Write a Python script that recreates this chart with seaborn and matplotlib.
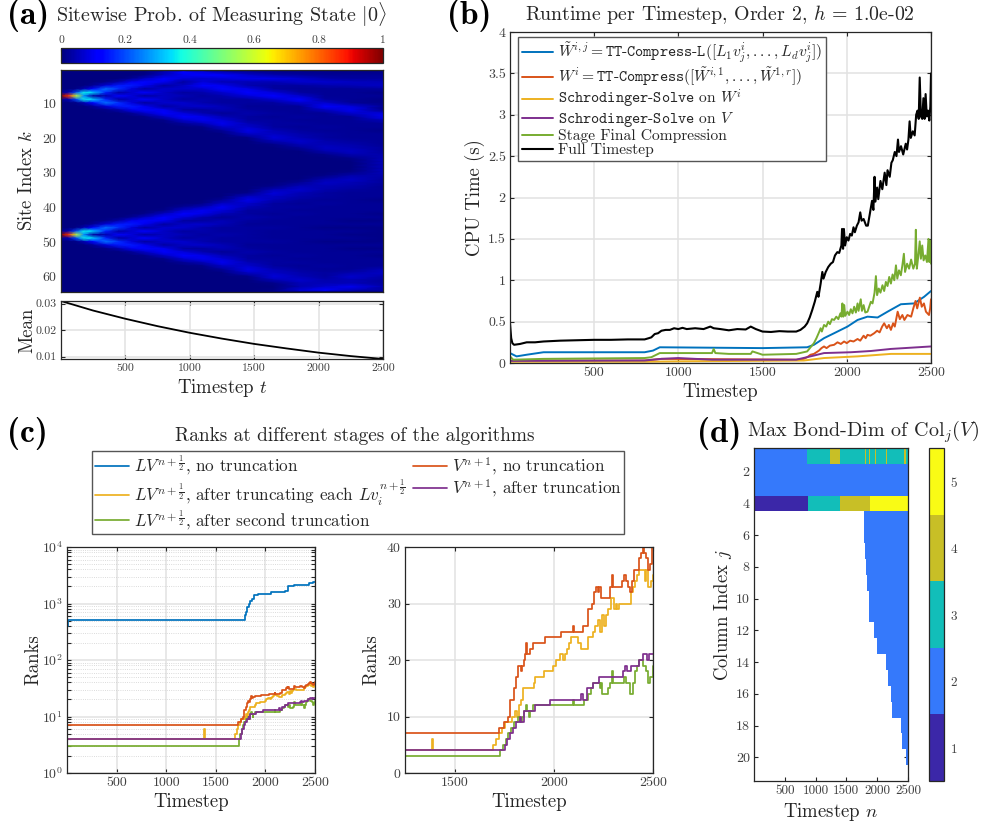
import numpy as np
import pandas as pd
import seaborn as sns
import matplotlib
matplotlib.use("Agg")
import matplotlib.pyplot as plt
from matplotlib.colors import ListedColormap

W, H = 986, 827

# (a) sitewise probability, in percent, read by eye. one row per site 1..64
site_times = [1, 60, 120, 180, 250, 350, 450, 550, 650, 800, 950, 1100, 1250, 1450, 1650, 1850, 2050, 2250, 2500]
site_prob = [
    [0]*9 + [4, 11, 8, 4, 2, 1, 1, 1, 1, 1],
    [0]*8 + [1, 6, 10, 12, 12, 7, 4, 3, 2, 2, 2],
    [0]*7 + [2, 6, 12, 8, 7, 8, 9, 9, 7, 4, 3, 3],
    [0]*5 + [1, 4, 10, 13, 10, 3, 8, 5, 5, 5, 7, 7, 6, 5],
    [0]*4 + [2, 8, 15, 15, 10, 3, 6, 12, 10, 4, 3, 3, 4, 5, 6],
    [0, 0, 1, 5, 13, 24, 17, 8, 3, 7, 7, 7, 13, 9, 3, 2, 2, 2, 3],
    [2, 5, 20, 36, 33, 16, 3, 7, 11, 6, 3, 4, 7, 12, 8, 3, 2, 2, 1],
    [100, 85, 58, 25, 3, 4, 13, 8, 3, 6, 5, 3, 4, 8, 12, 7, 2, 2, 2],
    [2, 5, 20, 36, 33, 16, 3, 7, 11, 6, 3, 4, 3, 3, 7, 12, 3, 2, 1],
    [0, 0, 1, 5, 13, 24, 17, 8, 3, 7, 7, 4, 3, 3, 3, 7, 7, 2, 1],
    [0, 0, 0, 0, 2, 8, 15, 15, 10, 3, 6, 7, 5, 2, 2, 2, 11, 8, 2],
    [0]*5 + [1, 4, 10, 13, 10, 3, 3, 5, 3, 2, 2, 6, 10, 1],
    [0]*7 + [2, 6, 12, 8, 4, 2, 4, 3, 2, 2, 7, 8],
    [0]*8 + [1, 6, 11, 9, 5, 3, 2, 3, 2, 2, 10],
    [0]*9 + [1, 7, 10, 8, 3, 3, 2, 2, 2, 5],
    [0]*10 + [2, 5, 10, 5, 3, 3, 2, 2, 2],
    [0]*11 + [1, 6, 7, 3, 2, 3, 2, 2],
    [0]*12 + [2, 9, 5, 3, 2, 2, 1],
    [0]*13 + [6, 6, 4, 3, 2, 2],
    [0]*13 + [1, 8, 5, 3, 2, 2],
    [0]*14 + [5, 7, 4, 3, 2],
    [0]*14 + [1, 5, 5, 4, 2],
    [0]*15 + [2, 6, 5, 3],
    [0]*16 + [4, 6, 3],
    [0]*16 + [1, 4, 4],
    [0]*17 + [1, 5],
    [0]*18 + [5],
    [0]*18 + [5],
    [0]*18 + [5],
    [0]*17 + [1, 5],
    [0]*16 + [1, 4, 4],
    [0]*16 + [4, 6, 3],
    [0]*15 + [2, 6, 5, 3],
    [0]*14 + [1, 5, 5, 4, 2],
    [0]*14 + [5, 7, 4, 3, 2],
    [0]*13 + [1, 8, 5, 3, 2, 2],
    [0]*13 + [6, 6, 4, 3, 2, 2],
    [0]*12 + [2, 9, 5, 3, 2, 2, 1],
    [0]*11 + [1, 6, 7, 3, 2, 3, 2, 2],
    [0]*10 + [2, 5, 10, 5, 3, 3, 2, 2, 2],
    [0]*9 + [1, 7, 10, 8, 3, 3, 2, 2, 2, 2],
    [0]*8 + [1, 6, 11, 9, 5, 3, 2, 3, 2, 2, 1],
    [0]*7 + [2, 6, 12, 8, 4, 2, 4, 3, 2, 2, 2, 2],
    [0]*5 + [1, 4, 10, 13, 10, 3, 3, 5, 3, 2, 2, 2, 1, 1],
    [0]*4 + [2, 8, 15, 15, 10, 3, 6, 7, 5, 2, 2, 2, 2, 2, 2],
    [0, 0, 1, 5, 13, 24, 17, 8, 3, 7, 7, 4, 3, 3, 3, 2, 1, 1, 1],
    [2, 5, 20, 36, 33, 16, 3, 7, 11, 6, 3, 4, 3, 3, 2, 2, 2, 2, 1],
    [100, 85, 58, 25, 3, 4, 13, 8, 3, 6, 5, 3, 4, 3, 2, 2, 2, 1, 1],
    [2, 5, 20, 36, 33, 16, 3, 7, 11, 6, 3, 4, 3, 3, 2, 2, 2, 2, 1],
    [0, 0, 1, 5, 13, 24, 17, 8, 3, 7, 7, 4, 3, 3, 3, 2, 1, 1, 1],
    [0]*4 + [2, 8, 15, 15, 10, 3, 6, 7, 5, 2, 2, 2, 2, 2, 2],
    [0]*5 + [1, 4, 10, 13, 10, 3, 3, 5, 3, 2, 2, 2, 1, 1],
    [0]*7 + [2, 6, 12, 8, 4, 2, 4, 3, 2, 2, 2, 2],
    [0]*8 + [1, 6, 11, 9, 5, 3, 2, 3, 2, 2, 1],
    [0]*9 + [1, 7, 10, 8, 3, 3, 2, 2, 2, 2],
    [0]*10 + [2, 5, 10, 5, 3, 3, 2, 2, 2],
    [0]*11 + [1, 6, 7, 3, 2, 3, 2, 2],
    [0]*12 + [2, 9, 5, 3, 2, 2, 5],
    [0]*13 + [6, 6, 4, 3, 4, 6],
    [0]*13 + [1, 8, 5, 3, 7, 4],
    [0]*14 + [5, 7, 4, 5, 3],
    [0]*14 + [1, 5, 5, 5, 3],
    [0]*15 + [4, 7, 10, 4],
    [0]*14 + [1, 8, 11, 5, 3],
]

mean_t = [1, 250, 500, 750, 1000, 1250, 1500, 1750, 2000, 2250, 2500]
mean_prob = [0.0310, 0.0274, 0.0243, 0.0215, 0.0190, 0.0168, 0.0148, 0.0131, 0.0115, 0.0102, 0.0091]

# (b) runtimes
full_t = [1, 4, 8, 15, 25, 60, 100, 150, 200, 300, 400, 500, 600, 700, 800, 825, 840, 860, 880, 900, 925, 950, 975,
          1000, 1025, 1050, 1100, 1150, 1190, 1210, 1250, 1300, 1350, 1400, 1430, 1460, 1500, 1550, 1600, 1650, 1700,
          1725, 1750, 1765, 1780, 1795, 1810, 1825, 1832, 1845, 1855, 1862, 1875, 1890, 1905, 1918, 1930, 1944, 1955,
          1968, 1972, 1978, 1983, 1990, 2000, 2010, 2020, 2030, 2040, 2048, 2060, 2070, 2080, 2088, 2100, 2115, 2125,
          2135, 2150, 2158, 2165, 2170, 2180, 2187, 2200, 2211, 2225, 2235, 2242, 2255, 2265, 2273, 2285, 2295, 2304,
          2310, 2322, 2335, 2350, 2358, 2366, 2373, 2380, 2392, 2403, 2412, 2420, 2427, 2433, 2440, 2448, 2455, 2462,
          2468, 2475, 2482, 2490, 2496, 2500]
full_cpu = [0.48, 0.40, 0.30, 0.24, 0.22, 0.23, 0.25, 0.25, 0.26, 0.27, 0.275, 0.28, 0.28, 0.285, 0.285, 0.30, 0.31,
            0.35, 0.36, 0.39, 0.40, 0.40, 0.42, 0.41, 0.425, 0.41, 0.42, 0.41, 0.44, 0.42, 0.41, 0.395, 0.41, 0.405,
            0.44, 0.41, 0.38, 0.375, 0.385, 0.38, 0.38, 0.40, 0.44, 0.48, 0.55, 0.64, 0.74, 0.86, 0.80, 0.96, 1.10,
            1.02, 1.10, 1.16, 1.20, 1.22, 1.30, 1.34, 1.33, 1.42, 1.62, 1.38, 1.62, 1.42, 1.52, 1.48, 1.56, 1.54,
            1.64, 1.58, 1.66, 1.70, 1.82, 1.72, 1.74, 1.66, 1.66, 1.78, 1.96, 1.85, 2.25, 1.95, 2.12, 1.98, 2.20,
            2.10, 2.30, 2.15, 2.33, 2.25, 2.42, 2.45, 2.55, 2.50, 2.70, 2.55, 2.62, 2.52, 2.65, 2.58, 2.70, 2.92,
            2.72, 2.80, 2.75, 3.00, 3.05, 2.95, 3.45, 2.98, 2.95, 3.20, 2.95, 3.25, 2.98, 3.05, 2.93, 3.10, 3.50]

stage_t = [1, 20, 200, 800, 840, 890, 1000, 1200, 1210, 1220, 1300, 1430, 1440, 1500, 1700, 1765, 1785, 1805, 1820, 1835,
           1845, 1852, 1865, 1878, 1890, 1900, 1912, 1925, 1938, 1950, 1962, 1968, 1974, 1979, 1985, 1991, 2004, 2014,
           2024, 2034, 2044, 2054, 2064, 2070, 2083, 2090, 2100, 2110, 2123, 2133, 2143, 2153, 2165, 2173, 2180, 2190,
           2200, 2212, 2222, 2232, 2242, 2252, 2262, 2272, 2282, 2292, 2300, 2310, 2321, 2330, 2339, 2346, 2358, 2370,
           2382, 2395, 2405, 2410, 2416, 2425, 2433, 2440, 2448, 2456, 2466, 2476, 2485, 2490, 2495, 2500]
stage_cpu = [0.08, 0.04, 0.05, 0.06, 0.07, 0.12, 0.12, 0.12, 0.17, 0.12, 0.11, 0.11, 0.14, 0.10, 0.11, 0.14, 0.19, 0.24,
             0.30, 0.37, 0.42, 0.38, 0.46, 0.44, 0.50, 0.47, 0.53, 0.52, 0.56, 0.53, 0.60, 0.56, 0.72, 0.56, 0.70, 0.57,
             0.62, 0.58, 0.65, 0.60, 0.68, 0.61, 0.72, 0.63, 0.77, 0.63, 0.70, 0.61, 0.62, 0.68, 0.74, 0.72, 0.85, 1.05,
             0.82, 0.90, 0.85, 0.94, 0.87, 0.98, 0.93, 1.04, 0.96, 1.07, 1.00, 1.18, 1.02, 1.12, 1.06, 1.18, 1.32, 1.10,
             1.20, 1.14, 1.25, 1.14, 1.20, 1.61, 1.14, 1.30, 1.47, 1.26, 1.42, 1.24, 1.30, 1.22, 1.50, 1.22, 1.48, 1.20]

ttl_t = [1, 40, 100, 200, 800, 850, 890, 1500, 1765, 1805, 1865, 1925, 2004, 2064, 2123, 2183, 2242, 2321, 2400, 2459, 2500]
ttl_cpu = [0.12, 0.08, 0.10, 0.13, 0.13, 0.15, 0.19, 0.18, 0.19, 0.22, 0.30, 0.36, 0.44, 0.52, 0.56, 0.55, 0.62, 0.71, 0.72, 0.80, 0.87]

ttc_t = [1, 300, 800, 900, 1700, 1745, 1765, 1785, 1805, 1820, 1835, 1850, 1865, 1880, 1900, 1925, 1945, 1965, 1984, 2000,
         2020, 2040, 2064, 2080, 2100, 2112, 2123, 2140, 2163, 2180, 2195, 2210, 2222, 2238, 2250, 2262, 2275, 2285, 2302,
         2315, 2330, 2342, 2360, 2382, 2395, 2408, 2418, 2434, 2445, 2458, 2470, 2488, 2495, 2500]
ttc_cpu = [0.03, 0.03, 0.03, 0.05, 0.04, 0.05, 0.07, 0.10, 0.11, 0.13, 0.15, 0.18, 0.20, 0.18, 0.21, 0.22, 0.25, 0.23, 0.26,
           0.24, 0.27, 0.26, 0.29, 0.27, 0.33, 0.30, 0.34, 0.33, 0.36, 0.39, 0.37, 0.44, 0.48, 0.42, 0.46, 0.40, 0.48, 0.44,
           0.62, 0.53, 0.58, 0.52, 0.58, 0.56, 0.66, 0.75, 0.66, 0.79, 0.68, 0.72, 0.62, 0.58, 0.66, 0.77]

solve_w_t = [1, 800, 1000, 1745, 1865, 2064, 2262, 2500]
solve_w_cpu = [0.015, 0.015, 0.02, 0.03, 0.06, 0.08, 0.11, 0.11]

solve_v_t = [1, 800, 900, 1000, 1200, 1700, 1805, 1865, 2024, 2143, 2262, 2500]
solve_v_cpu = [0.025, 0.03, 0.05, 0.06, 0.04, 0.04, 0.09, 0.12, 0.13, 0.145, 0.17, 0.20]

# (c) ranks, given as the timestep where a value starts
no_trunc_t = [1, 8, 1795, 1805, 1815, 1830, 1845, 1865, 1890, 1925, 2060, 2200, 2230, 2290, 2440, 2480, 2500]
no_trunc_rank = [400, 510, 620, 720, 850, 1000, 1130, 1200, 1430, 1480, 1600, 1650, 2000, 2150, 2300, 2450, 2450]

v_t = [1, 5, 1725, 1750, 1770, 1780, 1800, 1810, 1820, 1835, 1842, 1850, 1855, 1860, 1866, 1880, 1895, 1955, 2035, 2095,
       2100, 2145, 2170, 2195, 2205, 2215, 2225, 2230, 2238, 2285, 2292, 2298, 2345, 2355, 2362, 2372, 2385, 2395, 2405,
       2430, 2440, 2450, 2456, 2465, 2475, 2485, 2497, 2500]
v_rank = [4, 7, 8, 9, 10, 13, 15, 17, 19, 18, 19, 20, 21, 23, 21, 22, 23, 24, 25, 26, 25, 26, 29, 30, 32, 33, 32, 33, 31, 33,
          35, 33, 34, 35, 34, 33, 32, 34, 36, 38, 39, 40, 39, 38, 36, 37, 40, 40]

lv_each_t = [1, 1385, 1393, 1695, 1710, 1725, 1740, 1755, 1790, 1805, 1815, 1825, 1835, 1845, 1900, 1905, 1950, 1995, 2010,
             2030, 2045, 2055, 2065, 2075, 2085, 2120, 2135, 2170, 2200, 2210, 2222, 2235, 2245, 2255, 2265, 2275, 2290,
             2305, 2315, 2320, 2330, 2380, 2390, 2400, 2410, 2420, 2430, 2458, 2465, 2475, 2490, 2500]
lv_each_rank = [4, 6, 4, 5, 6, 7, 8, 9, 10, 11, 10, 12, 13, 15, 16, 17, 18, 19, 20, 21, 20, 21, 22, 23, 24, 23, 22, 24, 25,
                26, 27, 25, 28, 26, 28, 29, 31, 29, 30, 29, 30, 30, 32, 33, 34, 35, 36, 34, 36, 33, 34, 35]

v_trunc_t = [1, 1755, 1765, 1780, 1795, 1810, 1830, 1835, 1850, 1905, 1980, 2135, 2145, 2165, 2200, 2230, 2350, 2360, 2370,
             2390, 2430, 2450, 2470, 2480, 2500]
v_trunc_rank = [4, 5, 6, 7, 8, 9, 10, 9, 11, 12, 13, 14, 13, 15, 16, 17, 18, 19, 18, 19, 20, 21, 20, 21, 21]

lv_second_t = [1, 1730, 1745, 1760, 1770, 1785, 1800, 1820, 1830, 1840, 1850, 1860, 1866, 1875, 1880, 1895, 2095, 2100, 2150,
               2170, 2185, 2200, 2232, 2238, 2245, 2275, 2285, 2293, 2300, 2355, 2365, 2385, 2400, 2410, 2420, 2430, 2450,
               2465, 2475, 2485, 2500]
lv_second_rank = [3, 4, 5, 6, 7, 8, 9, 10, 9, 10, 11, 12, 11, 10, 11, 12, 13, 12, 13, 14, 15, 16, 15, 16, 14, 15, 16, 18, 16,
                  17, 16, 14, 16, 18, 19, 20, 19, 18, 16, 17, 19]

# (d) max bond dimension per column
col_1_t = [1, 846, 1236, 1383, 1800, 1820, 1855, 1875, 1955, 1975, 2135, 2155, 2440, 2460]
col_1_dim = [2, 3, 4, 3, 4, 3, 4, 3, 4, 3, 4, 3, 4, 3]
col_4_t = [1, 878, 1383, 1870]
col_4_dim = [1, 3, 4, 5]
col_first_t = [1762, 1762, 1790, 1806, 1822, 1844, 1860, 1936, 1990, 2137, 2164, 2202, 2234, 2364, 2397, 2457, 2484]

BLUE, RED, YELLOW, PURPLE, GREEN = "#0072BD", "#D95319", "#EDB120", "#7E2F8E", "#77AC30"
DIM_COLORS = ["#3B27A8", "#3579FB", "#12BEB9", "#C8BF26", "#F9FB15"]

sns.set_theme(style="ticks")
plt.rcParams.update({
    "font.family": ["cmr10"],
    "mathtext.fontset": "cm",
    "axes.formatter.use_mathtext": True,
    "axes.unicode_minus": False,
    "axes.edgecolor": "#262626",
    "axes.linewidth": 0.9,
    "text.color": "#262626",
    "axes.labelcolor": "#262626",
    "xtick.color": "#262626",
    "ytick.color": "#262626",
    "xtick.labelcolor": "#404040",
    "ytick.labelcolor": "#404040",
    "xtick.direction": "in",
    "ytick.direction": "in",
})

fig = plt.figure(figsize=(W / 100, H / 100), dpi=100, facecolor="white")


def px_axes(left, top, right, bottom):
    return fig.add_axes([left / W, 1 - bottom / H, (right - left) / W, (bottom - top) / H])


def put(x, y, s, **kw):
    kw.setdefault("ha", "center")
    kw.setdefault("va", "center")
    fig.text(x / W, 1 - y / H, s, **kw)


def style(ax, size=10):
    ax.tick_params(which="both", top=True, right=True, length=3, width=0.8, labelsize=size, pad=3)
    ax.grid(True, which="major", color="#e2e2e2", linewidth=1.1)
    ax.set_axisbelow(True)
    for s in ax.spines.values():
        s.set_visible(True)


def curve(ax, t, y, color, label=None, lw=1.25, steps=False):
    sns.lineplot(x=t, y=y, ax=ax, color=color, label=label, linewidth=lw, estimator=None, sort=False,
                 drawstyle="steps-post" if steps else "default")


def time_axis(ax, size=10):
    ax.set_xlim(1, 2500)
    ax.set_xticks([500, 1000, 1500, 2000, 2500])
    ax.set_xticklabels(["500", "1000", "1500", "2000", "2500"], fontsize=size)


# panel a
cax_a = px_axes(61, 48, 383, 63)
ax_a = px_axes(61, 70, 383, 292)
ax_a.set_facecolor(plt.get_cmap("jet")(0.0))
mesh = ax_a.pcolormesh(site_times, np.arange(1, 65), np.array(site_prob) / 100, cmap="jet", vmin=0, vmax=1, shading="gouraud")
ax_a.set_xlim(1, 2500)
ax_a.set_ylim(64.5, 0.5)
ax_a.set_xticks([])
ax_a.set_yticks([10, 20, 30, 40, 50, 60])
ax_a.tick_params(right=True, length=3, width=0.8, labelsize=10, pad=3)
ax_a.set_ylabel(r"Site Index $k$", fontsize=13.5)
ax_a.yaxis.set_label_coords(-0.078, 0.5)
for s in ax_a.spines.values():
    s.set_visible(True)

cb = fig.colorbar(mesh, cax=cax_a, orientation="horizontal")
cb.set_ticks([0, 0.2, 0.4, 0.6, 0.8, 1])
cb.set_ticklabels(["0", "0.2", "0.4", "0.6", "0.8", "1"], fontsize=8.3)
cax_a.xaxis.set_ticks_position("top")
cax_a.tick_params(length=2, width=0.8, pad=2, direction="in")

ax_m = px_axes(61, 301, 383, 359)
style(ax_m, 8.5)
curve(ax_m, mean_t, mean_prob, "black", lw=1.3)
time_axis(ax_m, 8.5)
ax_m.set_ylim(0.0091, 0.031)
ax_m.set_yticks([0.01, 0.02, 0.03])
ax_m.set_yticklabels(["0.01", "0.02", "0.03"], fontsize=8.5)
ax_m.set_xlabel(r"Timestep $t$", fontsize=13.5, labelpad=3)
ax_m.set_ylabel("Mean", fontsize=13.5)
ax_m.yaxis.set_label_coords(-0.078, 0.5)

# panel b
ax_b = px_axes(510, 32, 931, 363)
style(ax_b)
curve(ax_b, ttl_t, ttl_cpu, BLUE, r"$\tilde{W}^{i,j}=\mathtt{TT}$-$\mathtt{Compress}$-$\mathtt{L}([L_1v_j^i,...,L_dv_j^i])$", lw=1.4)
curve(ax_b, ttc_t, ttc_cpu, RED, r"$W^i=\mathtt{TT}$-$\mathtt{Compress}([\tilde{W}^{i,1},...,\tilde{W}^{1,r}])$", lw=1.4)
curve(ax_b, solve_w_t, solve_w_cpu, YELLOW, r"$\mathtt{Schrodinger}$-$\mathtt{Solve}$ on $W^i$", lw=1.4)
curve(ax_b, solve_v_t, solve_v_cpu, PURPLE, r"$\mathtt{Schrodinger}$-$\mathtt{Solve}$ on $V$", lw=1.4)
curve(ax_b, stage_t, stage_cpu, GREEN, "Stage Final Compression", lw=1.4)
curve(ax_b, full_t, full_cpu, "black", "Full Timestep", lw=1.5)
time_axis(ax_b)
ax_b.set_ylim(0, 4)
ax_b.set_yticks([0, 0.5, 1, 1.5, 2, 2.5, 3, 3.5, 4])
ax_b.set_yticklabels(["0", "0.5", "1", "1.5", "2", "2.5", "3", "3.5", "4"], fontsize=10)
ax_b.set_xlabel("Timestep", fontsize=13.5, labelpad=3)
ax_b.set_ylabel("CPU Time (s)", fontsize=13.5)
ax_b.yaxis.set_label_coords(-0.059, 0.5)
ax_b.legend(loc="upper left", bbox_to_anchor=(518 / W, 1 - 37 / H), bbox_transform=fig.transFigure, borderaxespad=0,
            fancybox=False, framealpha=1, edgecolor="#555555", fontsize=11.2, handlelength=2.0, handletextpad=0.3,
            labelspacing=0.0, borderpad=0.25)

# panel c, both axes share the same rank arrays
ax_c1 = px_axes(67, 547, 315, 773)
ax_c2 = px_axes(405, 547, 653, 773)
style(ax_c1, 10)
style(ax_c2, 10)
ax_c1.set_yscale("log")
curve(ax_c1, no_trunc_t, no_trunc_rank, BLUE, r"$LV^{n+\frac{1}{2}}$, no truncation", steps=True)
for ax in (ax_c1, ax_c2):
    lab = ax is ax_c1
    curve(ax, lv_each_t, lv_each_rank, YELLOW, r"$LV^{n+\frac{1}{2}}$, after truncating each $Lv_i^{n+\frac{1}{2}}$" if lab else None, steps=True)
    curve(ax, lv_second_t, lv_second_rank, GREEN, r"$LV^{n+\frac{1}{2}}$, after second truncation" if lab else None, steps=True)
    curve(ax, v_t, v_rank, RED, r"$V^{n+1}$, no truncation" if lab else None, steps=True)
    curve(ax, v_trunc_t, v_trunc_rank, PURPLE, r"$V^{n+1}$, after truncation" if lab else None, steps=True)
time_axis(ax_c1, 10)
ax_c1.set_ylim(1, 1e4)
ax_c1.grid(True, which="minor", axis="y", color="#cfcfcf", linewidth=0.6, linestyle=":")
ax_c2.set_xlim(1250, 2500)
ax_c2.set_xticks([1500, 2000, 2500])
ax_c2.set_xticklabels(["1500", "2000", "2500"], fontsize=10)
ax_c2.set_ylim(0, 40)
ax_c2.set_yticks([0, 10, 20, 30, 40])
ax_c2.set_yticklabels(["0", "10", "20", "30", "40"], fontsize=10)
for ax in (ax_c1, ax_c2):
    ax.set_xlabel("Timestep", fontsize=13.5, labelpad=3)
    ax.set_ylabel("Ranks", fontsize=13.5)
    ax.yaxis.set_label_coords(-0.1, 0.5)

handles, labels = ax_c1.get_legend_handles_labels()
ax_c1.get_legend().remove()
fig.legend(handles, labels, ncol=2, loc="upper left",
           bbox_to_anchor=(92 / W, 1 - 451 / H), borderaxespad=0, fancybox=False, framealpha=1, edgecolor="#555555",
           fontsize=12.3, handlelength=2.0, handletextpad=0.3, columnspacing=0.4, labelspacing=0.0, borderpad=0.15)
put(355, 436, "Ranks at different stages of the algorithms", fontsize=13.9)

# panel d
step = 20
bins = np.arange(1, 2500, step)
dims = np.full((21, bins.size), np.nan)
dims[1:3, :] = 2
for start, val in zip(col_1_t, col_1_dim):
    dims[0, bins >= start] = val
for start, val in zip(col_4_t, col_4_dim):
    dims[3, bins >= start] = val
for row, start in enumerate(col_first_t, start=4):
    dims[row, bins >= start] = 2
dims_df = pd.DataFrame(dims, index=np.arange(1, 22), columns=bins)

ax_d = px_axes(754, 448, 908, 781)
cax_d = px_axes(929, 448, 944, 781)
sns.heatmap(dims_df, ax=ax_d, cbar_ax=cax_d, cmap=ListedColormap(DIM_COLORS), vmin=0.5, vmax=5.5,
            xticklabels=False, yticklabels=False, cbar_kws={"ticks": [1, 2, 3, 4, 5]})
ax_d.set_xticks([(t - 1) / step for t in [500, 1000, 1500, 2000, 2500]])
ax_d.set_xticklabels(["500", "1000", "1500", "2000", "2500"], fontsize=9.5, rotation=0)
ax_d.set_yticks([j - 0.5 for j in range(2, 21, 2)])
ax_d.set_yticklabels([str(j) for j in range(2, 21, 2)], fontsize=10, rotation=0)
ax_d.tick_params(top=True, right=True, length=3, width=0.8, pad=3)
for s in ax_d.spines.values():
    s.set_visible(True)
ax_d.set_xlabel(r"Timestep $n$", fontsize=13.5, labelpad=3)
ax_d.set_ylabel(r"Column Index $j$", fontsize=13.5)
ax_d.yaxis.set_label_coords(-0.133, 0.5)
cax_d.tick_params(labelsize=9.5, length=3, width=0.8, direction="in", pad=4)
dim_bar = ax_d.collections[0].colorbar
dim_bar.outline.set_visible(True)
dim_bar.outline.set_linewidth(0.9)
dim_bar.outline.set_edgecolor("#262626")

# titles and panel letters
put(221, 15, r"Sitewise Prob. of Measuring State $|0\rangle$", fontsize=14.5)
put(720, 15, r"Runtime per Timestep, Order 2, $h$ = 1.0e-02", fontsize=14.3)
put(863, 432, r"Max Bond-Dim of Col$_j(V)$", fontsize=14.5)
for x, y, letter in [(7, 16, "(a)"), (447, 16, "(b)"), (7, 433, "(c)"), (697, 433, "(d)")]:
    put(x, y, letter, ha="left", family="cmb10", fontsize=24, color="black")

fig.savefig("out.png", dpi=100)
